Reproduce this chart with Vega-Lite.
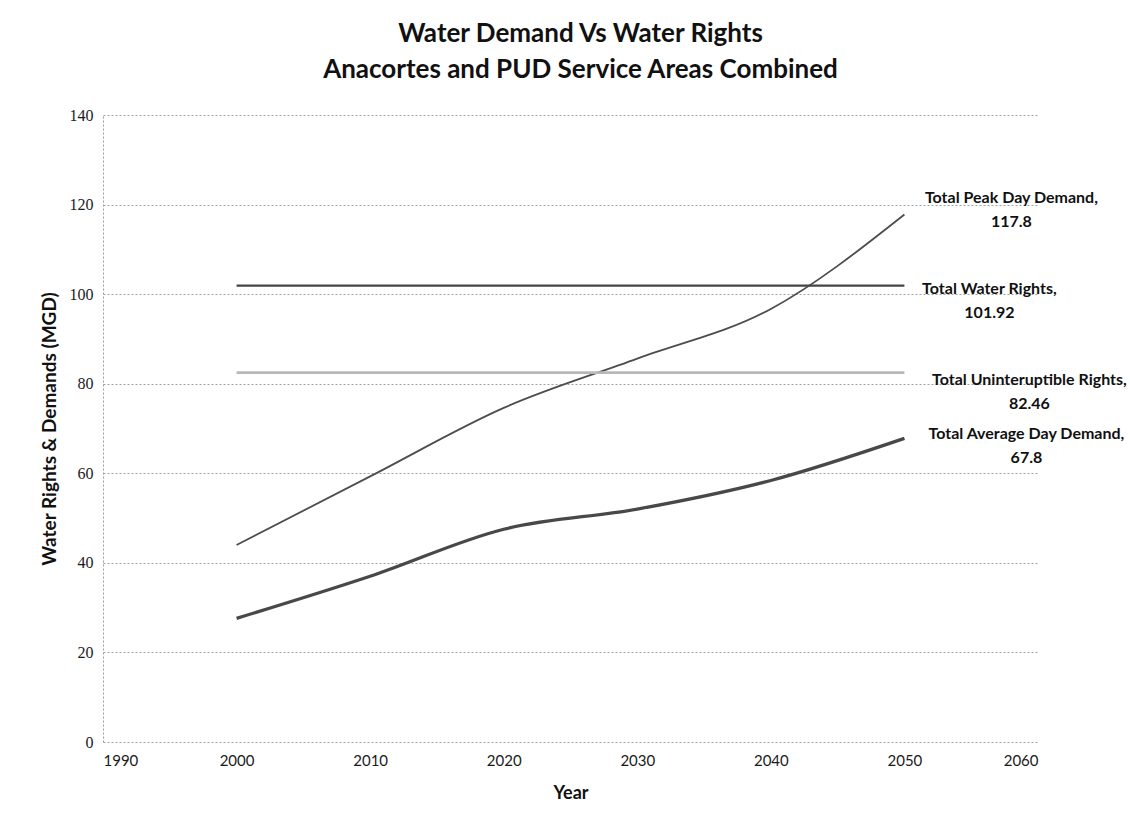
{
  "$schema": "https://vega.github.io/schema/vega-lite/v6.json",
  "width": 935,
  "height": 627,
  "autosize": {"type": "none"},
  "padding": {"left": 103, "top": 115, "right": 92, "bottom": 81},
  "background": "white",
  "config": {"view": {"stroke": null}, "font": "Lato"},
  "title": {
    "text": ["Water Demand Vs Water Rights", "Anacortes and PUD  Service Areas Combined"],
    "font": "Lato",
    "fontSize": 26,
    "fontWeight": "bold",
    "color": "#111111",
    "anchor": "middle",
    "lineHeight": 36,
    "offset": 24,
    "dx": 10
  },
  "data": {
    "values": [
      {"series": "Total Peak Day Demand", "year": 2000, "value": 44.0},
      {"series": "Total Peak Day Demand", "year": 2010, "value": 59.3},
      {"series": "Total Peak Day Demand", "year": 2020, "value": 74.6},
      {"series": "Total Peak Day Demand", "year": 2030, "value": 85.6},
      {"series": "Total Peak Day Demand", "year": 2040, "value": 96.7},
      {"series": "Total Peak Day Demand", "year": 2050, "value": 117.8},
      {"series": "Total Water Rights", "year": 2000, "value": 101.92},
      {"series": "Total Water Rights", "year": 2050, "value": 101.92},
      {"series": "Total Uninteruptible Rights", "year": 2000, "value": 82.46},
      {"series": "Total Uninteruptible Rights", "year": 2050, "value": 82.46},
      {"series": "Total Average Day Demand", "year": 2000, "value": 27.6},
      {"series": "Total Average Day Demand", "year": 2010, "value": 37.0},
      {"series": "Total Average Day Demand", "year": 2020, "value": 47.5},
      {"series": "Total Average Day Demand", "year": 2030, "value": 52.0},
      {"series": "Total Average Day Demand", "year": 2040, "value": 58.4},
      {"series": "Total Average Day Demand", "year": 2050, "value": 67.8}
    ]
  },
  "encoding": {
    "x": {
      "field": "year",
      "type": "quantitative",
      "scale": {"domain": [1990, 2060], "nice": false, "zero": false},
      "axis": {
        "values": [1990, 2000, 2010, 2020, 2030, 2040, 2050, 2060],
        "format": "d",
        "grid": false,
        "domain": false,
        "ticks": false,
        "labelPadding": 11,
        "labelFont": "Lato",
        "labelFontSize": 15,
        "labelColor": "#1a1a1a",
        "title": "Year",
        "titleFont": "Lato",
        "titleFontSize": 18,
        "titleFontWeight": "bold",
        "titleColor": "#111111",
        "titlePadding": 16
      }
    },
    "y": {
      "field": "value",
      "type": "quantitative",
      "scale": {"domain": [0, 140], "nice": false},
      "axis": {
        "values": [0, 20, 40, 60, 80, 100, 120, 140],
        "grid": true,
        "gridColor": "#a0a0a0",
        "gridDash": [2, 2],
        "gridWidth": 1,
        "domain": true,
        "domainColor": "#9a9a9a",
        "domainDash": [2, 2],
        "ticks": false,
        "labelPadding": 10,
        "labelFont": "Liberation Serif",
        "labelFontSize": 16,
        "labelColor": "#1a1a1a",
        "title": "Water Rights & Demands (MGD)",
        "titleFont": "Lato",
        "titleFontSize": 19,
        "titleFontWeight": "bold",
        "titleColor": "#111111",
        "titlePadding": 10
      }
    }
  },
  "layer": [
    {
      "mark": {"type": "line", "interpolate": "monotone"},
      "encoding": {
        "detail": {"field": "series"},
        "color": {
          "field": "series",
          "type": "nominal",
          "scale": {
            "domain": ["Total Peak Day Demand", "Total Water Rights", "Total Uninteruptible Rights", "Total Average Day Demand"],
            "range": ["#4d4d4d", "#444444", "#b8b8b8", "#484848"]
          },
          "legend": null
        },
        "strokeWidth": {
          "field": "series",
          "type": "nominal",
          "scale": {
            "domain": ["Total Peak Day Demand", "Total Water Rights", "Total Uninteruptible Rights", "Total Average Day Demand"],
            "range": [1.8, 3.2, 2, 1.8]
          },
          "legend": null
        }
      }
    },
    {
      "transform": [
        {"filter": "datum.year == 2050 && datum.series == 'Total Peak Day Demand'"},
        {"calculate": "[datum.series + ',', '' + datum.value]", "as": "label"}
      ],
      "mark": {"type": "text", "align": "center", "baseline": "middle", "dx": 107, "dy": -16, "font": "Lato", "fontSize": 16, "fontWeight": "bold", "lineHeight": 24, "color": "#111111"},
      "encoding": {"text": {"field": "label"}}
    },
    {
      "transform": [
        {"filter": "datum.year == 2050 && datum.series == 'Total Water Rights'"},
        {"calculate": "[datum.series + ',', '' + datum.value]", "as": "label"}
      ],
      "mark": {"type": "text", "align": "center", "baseline": "middle", "dx": 85, "dy": 3, "font": "Lato", "fontSize": 16, "fontWeight": "bold", "lineHeight": 24, "color": "#111111"},
      "encoding": {"text": {"field": "label"}}
    },
    {
      "transform": [
        {"filter": "datum.year == 2050 && datum.series == 'Total Uninteruptible Rights'"},
        {"calculate": "[datum.series + ',', '' + datum.value]", "as": "label"}
      ],
      "mark": {"type": "text", "align": "center", "baseline": "middle", "dx": 125, "dy": 7, "font": "Lato", "fontSize": 16, "fontWeight": "bold", "lineHeight": 24, "color": "#111111"},
      "encoding": {"text": {"field": "label"}}
    },
    {
      "transform": [
        {"filter": "datum.year == 2050 && datum.series == 'Total Average Day Demand'"},
        {"calculate": "[datum.series + ',', '' + datum.value]", "as": "label"}
      ],
      "mark": {"type": "text", "align": "center", "baseline": "middle", "dx": 122, "dy": -4, "font": "Lato", "fontSize": 16, "fontWeight": "bold", "lineHeight": 24, "color": "#111111"},
      "encoding": {"text": {"field": "label"}}
    }
  ]
}
